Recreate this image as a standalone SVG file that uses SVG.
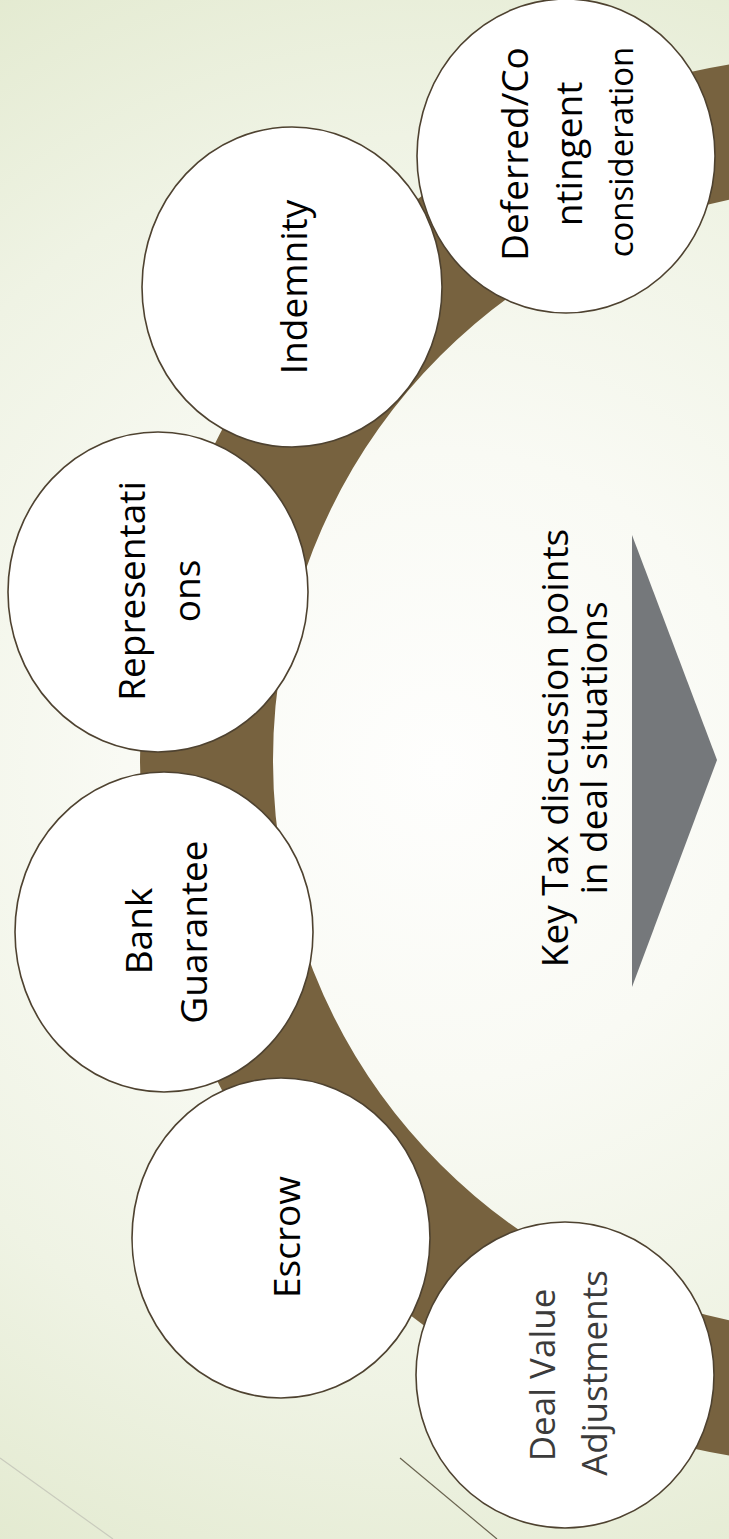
<svg xmlns="http://www.w3.org/2000/svg" width="729" height="1539" viewBox="0 0 729 1539">
  <defs>
    <radialGradient id="bg" gradientUnits="userSpaceOnUse" cx="440" cy="765" r="900">
      <stop offset="0" stop-color="#fefefd"/>
      <stop offset="0.35" stop-color="#f9faf4"/>
      <stop offset="0.7" stop-color="#eff3e4"/>
      <stop offset="1" stop-color="#e3ead0"/>
    </radialGradient>
    <style>
      .node ellipse { fill: #ffffff; stroke: #4e4230; stroke-width: 1.6; }
      .label { font-family: "Open Sans", "Noto Sans", "DejaVu Sans", sans-serif; font-size: 37px; fill: #000000; text-anchor: middle; }
      .small { font-size: 33px; }
      .soft { fill: #3b3b3b; font-size: 35px; }
    </style>
  </defs>

  <!-- slide background -->
  <rect x="0" y="0" width="729" height="1539" fill="url(#bg)"/>

  <!-- decorative hairlines, lower left -->
  <line x1="0" y1="1458" x2="113" y2="1539" stroke="#c9cbbd" stroke-width="1.2"/>
  <line x1="400" y1="1458" x2="497" y2="1539" stroke="#6a6450" stroke-width="1.2"/>

  <!-- brown band the nodes sit on -->
  <g id="connectors">
    <circle cx="845" cy="760" r="638.5" fill="none" stroke="#77623f" stroke-width="133"/>
  </g>

  <!-- nodes -->
  <g id="node-deferred" class="node">
    <ellipse cx="566" cy="156" rx="149" ry="157"/>
    <text class="label" transform="translate(528,154) rotate(-90)">Deferred/Co</text>
    <text class="label" transform="translate(582,154) rotate(-90)">ntingent</text>
    <text class="label small" transform="translate(633,152) rotate(-90)">consideration</text>
  </g>

  <g id="node-indemnity" class="node">
    <ellipse cx="292" cy="287" rx="150" ry="160"/>
    <text class="label" transform="translate(307,287) rotate(-90)">Indemnity</text>
  </g>

  <g id="node-representations" class="node">
    <ellipse cx="158" cy="592" rx="150" ry="160"/>
    <text class="label" transform="translate(145,591) rotate(-90)">Representati</text>
    <text class="label" transform="translate(200,591) rotate(-90)">ons</text>
  </g>

  <g id="node-bank-guarantee" class="node">
    <ellipse cx="164" cy="932" rx="149" ry="160"/>
    <text class="label" transform="translate(152,931) rotate(-90)">Bank</text>
    <text class="label" transform="translate(207,932) rotate(-90)">Guarantee</text>
  </g>

  <g id="node-escrow" class="node">
    <ellipse cx="281" cy="1238" rx="149" ry="160"/>
    <text class="label" transform="translate(300,1237) rotate(-90)">Escrow</text>
  </g>

  <g id="node-deal-value" class="node">
    <ellipse cx="565" cy="1375" rx="149" ry="153"/>
    <text class="label soft" transform="translate(555,1375) rotate(-90)">Deal Value</text>
    <text class="label soft" transform="translate(607,1373) rotate(-90)">Adjustments</text>
  </g>

  <!-- centre title with pointer -->
  <g id="node-title">
    <polygon points="632,535 717,760 632,987" fill="#75787b"/>
    <text class="label" transform="translate(568,748) rotate(-90)">Key Tax discussion points</text>
    <text class="label" transform="translate(607,748) rotate(-90)">in deal situations</text>
  </g>
</svg>
